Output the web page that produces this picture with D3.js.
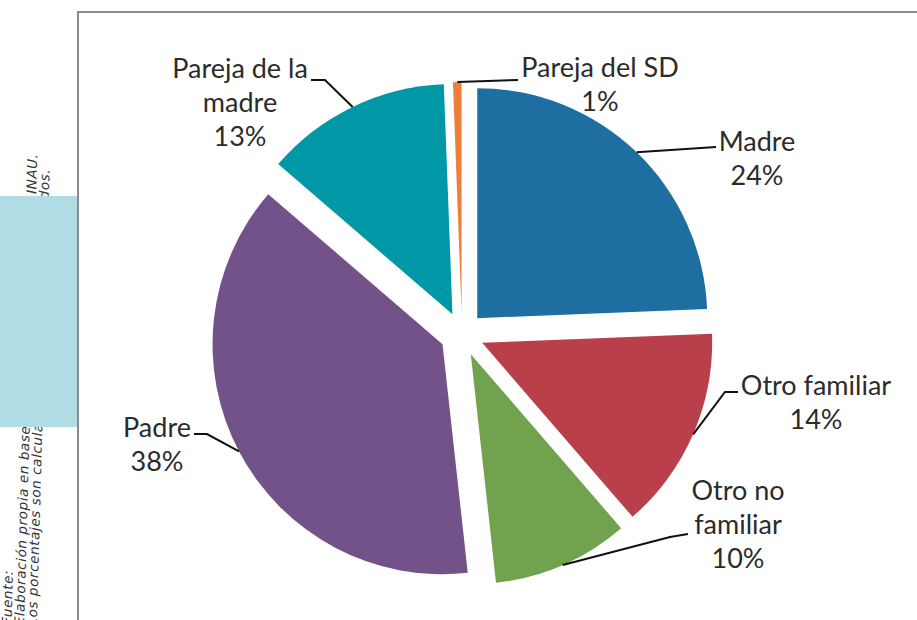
<!DOCTYPE html>
<html><head><meta charset="utf-8">
<script src="https://cdn.jsdelivr.net/npm/d3@7"></script>
<style>body{margin:0;background:#fff}svg{display:block}</style>
</head><body>
<svg id="c" width="917" height="620"></svg>
<script>
// ---- data ----
const categories = ["Madre", "Otro familiar", "Otro no familiar", "Padre", "Pareja de la madre", "Pareja del SD"];
const values = [24.4, 14.3, 9.6, 38.1, 13.1, 0.6];
const labelLines = [["Madre"], ["Otro familiar"], ["Otro no", "familiar"], ["Padre"], ["Pareja de la", "madre"], ["Pareja del SD"]];
const colors = ["#1f6ea1", "#b9404a", "#71a24d", "#73528a", "#0097a7", "#ef7e3b"];
const noteBottom = ["Fuente:", "Elaboración propia en base a", "Los porcentajes son calculados"];
const noteTop = ["", "del SIPI - INAU.", "registrados."];

// ---- layout (label placement, not data) ----
const labelPos = [
  {x: 757, y: 151, leader: [[716, 147]]},
  {x: 816, y: 395, leader: [[725, 392], [738, 392]]},
  {x: 738, y: 500, leader: [[670, 537], [688, 534]]},
  {x: 157, y: 437, leader: [[207, 434], [194, 434]]},
  {x: 240, y: 78,  leader: [[325, 80], [311, 80]]},
  {x: 600, y: 77,  leader: [[518, 80]]}
];

const svg = d3.select("#c");
const W = 917, H = 620;

// side note (rotated), partly hidden by the block
const note = svg.append("g")
  .attr("transform", "translate(11.5,622) rotate(-88.4)")
  .style("font-family", "'DejaVu Sans', sans-serif")
  .style("font-style", "oblique")
  .style("font-weight", 200)
  .style("font-size", "13.5px")
  .style("letter-spacing", "0.6px")
  .attr("fill", "#333");
const lineGap = 12.7;
noteBottom.forEach((t, i) => {
  note.append("text").attr("x", -3).attr("y", i * lineGap).text(t);
});
const topEnds = [0, 469, 454];
noteTop.forEach((t, i) => {
  if (!t) return;
  note.append("text").attr("x", topEnds[i]).attr("y", i * lineGap)
    .attr("text-anchor", "end").text(t);
});
svg.append("rect").attr("x", 0).attr("y", 196).attr("width", 78).attr("height", 231)
  .attr("fill", "#afdde3");

// chart frame
svg.append("path")
  .attr("d", `M78,${H + 5}V12H${W + 5}`)
  .attr("fill", "none").attr("stroke", "#8a8a8a").attr("stroke-width", 2);

// pie
const cx = 462, cy = 334, R = 230, explode = 22;
const pie = d3.pie().sort(null).value(d => d);
const arcs = pie(values);
const arc = d3.arc().innerRadius(0).outerRadius(R);
const total = d3.sum(values);

const g = svg.append("g").attr("transform", `translate(${cx},${cy})`);
arcs.forEach((a, i) => {
  const mid = (a.startAngle + a.endAngle) / 2;
  const ox = Math.sin(mid) * explode, oy = -Math.cos(mid) * explode;
  g.append("path")
    .attr("d", arc(a))
    .attr("transform", `translate(${ox},${oy})`)
    .attr("fill", colors[i]);
});

// labels + leaders
const lbl = svg.append("g")
  .style("font-family", "Lato, 'Open Sans', sans-serif")
  .style("font-size", "27px")
  .attr("fill", "#2b2b2b");
const lh = 34;
arcs.forEach((a, i) => {
  const mid = (a.startAngle + a.endAngle) / 2;
  const sx = cx + Math.sin(mid) * (explode + R);
  const sy = cy - Math.cos(mid) * (explode + R);
  const pts = [[sx, sy]].concat(labelPos[i].leader);
  lbl.append("path")
    .attr("d", d3.line()(pts))
    .attr("fill", "none").attr("stroke", "#111").attr("stroke-width", 2);
  const lines = labelLines[i].concat([Math.round(values[i] / total * 100) + "%"]);
  const t = lbl.append("text").attr("text-anchor", "middle");
  lines.forEach((s, k) => {
    t.append("tspan").attr("x", labelPos[i].x).attr("y", labelPos[i].y + k * lh).text(s);
  });
});
</script>
</body></html>
